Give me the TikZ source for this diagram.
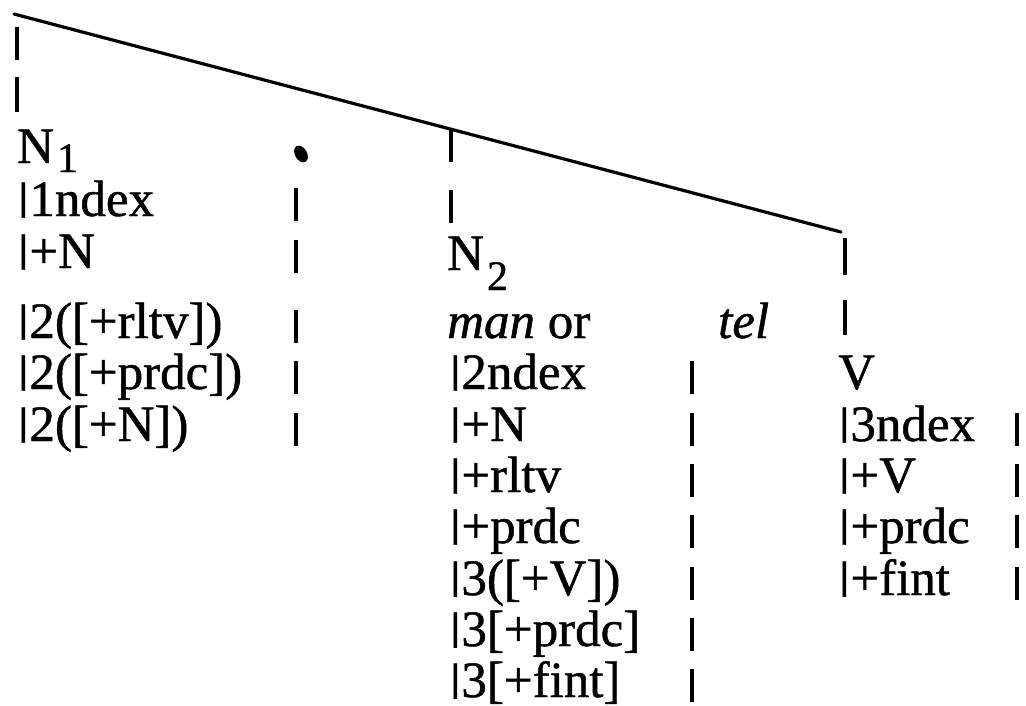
\documentclass[tikz,border=0pt]{standalone}
\usepackage{fontspec}
\setmainfont{Liberation Serif}[FakeBold=0.9]
\usepackage{graphicx}
\usepackage{tikz}
\usetikzlibrary{calc}
\newcommand{\tb}{\makebox[0.24em][l]{\raisebox{0.13em}{\scalebox{1.2}[0.76]{|}}}}
\newcommand{\lsub}[2]{\kern3pt\raisebox{-#1pt}{\fontsize{42}{42}\selectfont #2}}
\tikzset{
	lbl/.style={anchor=base west,inner sep=0pt,font=\fontsize{51}{56}\selectfont},
	branch/.style={draw=black,line width=3.2pt,line cap=round},
	twig/.style={draw=black,line width=3.4pt},
}

\begin{document}
\begin{tikzpicture}[x=1pt,y=-1pt]
	\useasboundingbox (0,0) rectangle (1026,705);
	\coordinate (top) at (14,14);
	\coordinate (vtop) at (841,232);
	\draw[branch] (top) -- (vtop);
	\foreach \x/\ya/\yb in {17/27/60,17/77/112,451/129/162,451/190/223,845/238/275,845/300/335}
	\draw[twig] (\x,\ya) -- (\x,\yb);
	\node[lbl] (n1) at (17,163) {N\lsub{9}{1}};
	\fill (301,154) ellipse [x radius=6, y radius=9, rotate=30];
	\foreach \n/\y/\txt in {a1/216/{\tb1ndex},a2/268/{\tb+N},a3/338/{\tb2([+rltv])},a4/389/{\tb2([+prdc])},a5/441/{\tb2([+N])}}
	\node[lbl] (\n) at (17,\y) {\txt};
	\foreach \y in {216,268,338,389,441}
	\draw[twig] (296,\y-28) -- (296,\y+5);
	\node[lbl] (n2) at (447,270) {N\lsub{20}{2}};
	\node[lbl] (man) at (447,338) {\textit{man} or};
	\node[lbl] (tel) at (718,338) {\textit{tel}};
	\foreach \n/\y/\txt in {b1/389/{\tb2ndex},b2/441/{\tb+N},b3/492/{\tb+rltv},b4/543/{\tb+prdc},b5/595/{\tb3([+V])},b6/646/{\tb3[+prdc]},b7/697/{\tb3[+fint]}}
	\node[lbl] (\n) at (449,\y) {\txt};
	\foreach \y in {389,441,492,543,595,646,697}
	\draw[twig] (692,\y-28) -- (692,\y+5);
	\node[lbl] (v) at (838,389) {V};
	\foreach \n/\y/\txt in {c1/441/{\tb3ndex},c2/492/{\tb+V},c3/543/{\tb+prdc},c4/595/{\tb+fint}}
	\node[lbl] (\n) at (838,\y) {\txt};
	\foreach \y in {441,492,543,595}
	\draw[twig] (1017,\y-28) -- (1017,\y+5);
\end{tikzpicture}
\end{document}
